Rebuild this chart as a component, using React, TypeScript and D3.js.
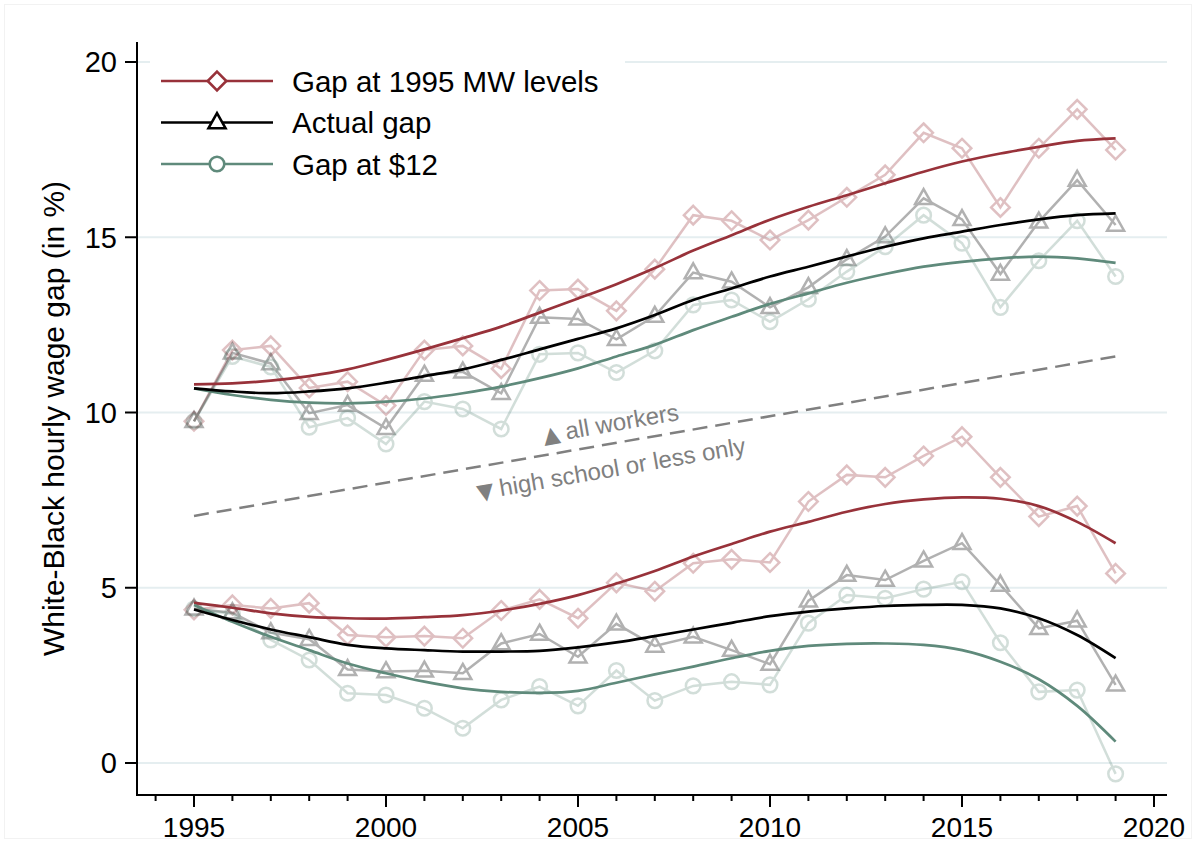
import React from "react";
import * as d3 from "d3";

const years = d3.range(1995, 2020);

// All workers
const mwAll = [9.75, 11.78, 11.9, 10.7, 10.88, 10.2, 11.78, 11.9, 11.25, 13.48, 13.52, 12.9, 14.09, 15.63, 15.47, 14.92, 15.49, 16.14, 16.78, 17.98, 17.54, 15.85, 17.54, 18.65, 17.49];
const actualAll = [9.75, 11.7, 11.4, 9.98, 10.21, 9.55, 11.07, 11.16, 10.55, 12.72, 12.67, 12.09, 12.75, 13.99, 13.73, 13.0, 13.57, 14.37, 15.02, 16.11, 15.51, 13.95, 15.44, 16.63, 15.35];
const d12All = [9.75, 11.6, 11.3, 9.58, 9.84, 9.1, 10.31, 10.1, 9.53, 11.66, 11.7, 11.14, 11.76, 13.07, 13.21, 12.59, 13.23, 14.02, 14.73, 15.63, 14.83, 13.0, 14.33, 15.47, 13.88];
const mwAllFit = [10.8, 10.83, 10.91, 11.04, 11.23, 11.5, 11.8, 12.12, 12.45, 12.85, 13.25, 13.66, 14.12, 14.62, 15.06, 15.5, 15.87, 16.2, 16.54, 16.87, 17.16, 17.39, 17.58, 17.75, 17.82];
const actualAllFit = [10.69, 10.6, 10.55, 10.6, 10.69, 10.85, 11.04, 11.23, 11.5, 11.8, 12.1, 12.4, 12.78, 13.21, 13.54, 13.88, 14.16, 14.45, 14.73, 14.97, 15.16, 15.35, 15.51, 15.63, 15.68];
const d12AllFit = [10.69, 10.5, 10.36, 10.28, 10.26, 10.31, 10.4, 10.55, 10.74, 10.98, 11.26, 11.6, 11.93, 12.35, 12.73, 13.1, 13.4, 13.7, 13.95, 14.16, 14.3, 14.4, 14.45, 14.4, 14.27];

// High school or less only
const mwHS = [4.37, 4.51, 4.41, 4.56, 3.65, 3.59, 3.62, 3.56, 4.35, 4.67, 4.13, 5.14, 4.9, 5.7, 5.81, 5.72, 7.46, 8.22, 8.15, 8.76, 9.31, 8.15, 7.03, 7.33, 5.41];
const actualHS = [4.4, 4.29, 3.72, 3.53, 2.67, 2.61, 2.63, 2.56, 3.41, 3.68, 3.03, 3.97, 3.34, 3.6, 3.22, 2.82, 4.63, 5.36, 5.22, 5.77, 6.27, 5.08, 3.84, 4.06, 2.23];
const d12HS = [4.4, 4.25, 3.51, 2.94, 1.99, 1.94, 1.56, 0.99, 1.8, 2.18, 1.63, 2.64, 1.78, 2.2, 2.32, 2.23, 3.99, 4.79, 4.7, 4.96, 5.17, 3.43, 2.03, 2.08, -0.31];
const mwHSFit = [4.57, 4.43, 4.27, 4.17, 4.13, 4.12, 4.16, 4.22, 4.35, 4.54, 4.79, 5.12, 5.48, 5.89, 6.25, 6.6, 6.88, 7.17, 7.39, 7.52, 7.58, 7.54, 7.33, 6.88, 6.27];
const actualHSFit = [4.38, 4.08, 3.81, 3.59, 3.37, 3.27, 3.22, 3.18, 3.18, 3.2, 3.3, 3.44, 3.62, 3.81, 4.0, 4.19, 4.32, 4.41, 4.48, 4.51, 4.51, 4.41, 4.13, 3.65, 2.99];
const d12HSFit = [4.51, 4.03, 3.6, 3.22, 2.84, 2.56, 2.32, 2.13, 2.03, 2.0, 2.06, 2.29, 2.53, 2.75, 2.99, 3.2, 3.34, 3.4, 3.41, 3.37, 3.22, 2.89, 2.39, 1.63, 0.61];

// Dashed separator
const sepYears = [1995, 2019];
const sepValues = [7.05, 11.6];

const yTicks = [0, 5, 10, 15, 20];
const xMajorTicks = [1995, 2000, 2005, 2010, 2015, 2020];
const xMinorTicks = d3.range(1994, 2021);

const legendLabels = ["Gap at 1995 MW levels", "Actual gap", "Gap at $12"];
const annotationSymbols = ["▲", "▼"];
const annotationLabels = ["all workers", "high school or less only"];

const RED = "#98323a";
const BLACK = "#000000";
const GREEN = "#5f8a7b";
const FONT = "'Liberation Sans', Arial, Helvetica, sans-serif";

type Shape = "diamond" | "triangle" | "circle";

function markerPath(shape: Shape, x: number, y: number): string {
  if (shape === "diamond") {
    const r = 9.3;
    return `M${x},${y - r}L${x + r},${y}L${x},${y + r}L${x - r},${y}Z`;
  }
  if (shape === "triangle") {
    const h = 15, w = 17;
    return `M${x},${y - h * 0.62}L${x + w / 2},${y + h * 0.38}L${x - w / 2},${y + h * 0.38}Z`;
  }
  const r = 7.3;
  return `M${x - r},${y}a${r},${r} 0 1,0 ${2 * r},0a${r},${r} 0 1,0 ${-2 * r},0Z`;
}

export default function App() {
  const W = 1196, H = 843;
  const x = d3.scaleLinear().domain([1995, 2020]).range([194, 1154]);
  const y = d3.scaleLinear().domain([0, 20]).range([763, 62]);
  const axisX = 137;
  const axisY = 795;

  const rawLine = d3.line<number>().x((_, i) => x(years[i])).y((d) => y(d));
  const fitLine = d3.line<number>().x((_, i) => x(years[i])).y((d) => y(d)).curve(d3.curveCatmullRom.alpha(0.5));

  const scatterSeries: { data: number[]; color: string; shape: Shape; opacity: number }[] = [
    { data: mwAll, color: RED, shape: "diamond", opacity: 0.3 },
    { data: mwHS, color: RED, shape: "diamond", opacity: 0.3 },
    { data: actualAll, color: BLACK, shape: "triangle", opacity: 0.3 },
    { data: actualHS, color: BLACK, shape: "triangle", opacity: 0.3 },
    { data: d12All, color: GREEN, shape: "circle", opacity: 0.28 },
    { data: d12HS, color: GREEN, shape: "circle", opacity: 0.28 },
  ];
  const fitSeries = [
    { data: mwAllFit, color: RED },
    { data: mwHSFit, color: RED },
    { data: d12AllFit, color: GREEN },
    { data: d12HSFit, color: GREEN },
    { data: actualAllFit, color: BLACK },
    { data: actualHSFit, color: BLACK },
  ];

  const legendItems: { label: string; color: string; shape: Shape }[] = [
    { label: legendLabels[0], color: RED, shape: "diamond" },
    { label: legendLabels[1], color: BLACK, shape: "triangle" },
    { label: legendLabels[2], color: GREEN, shape: "circle" },
  ];

  const angle = (Math.atan2(y(sepValues[1]) - y(sepValues[0]), x(sepYears[1]) - x(sepYears[0])) * 180) / Math.PI;

  return (
    <svg width={W} height={H} style={{ position: "absolute", left: 0, top: 0, background: "#fff" }} fontFamily={FONT}>
      <rect x={0} y={0} width={W} height={H} fill="#fff" />
      <rect x={4.5} y={4.5} width={W - 9} height={H - 9} fill="none" stroke="#f2f2f2" strokeWidth={1} />
      {/* gridlines */}
      {yTicks.map((t) => (
        <line key={"g" + t} x1={axisX + 1} x2={1167} y1={y(t)} y2={y(t)} stroke="#e5eef0" strokeWidth={2} />
      ))}

      {/* raw series */}
      {scatterSeries.map((s, si) => (
        <g key={"s" + si} opacity={s.opacity}>
          <path d={rawLine(s.data) || ""} fill="none" stroke={s.color} strokeWidth={2.5} />
          {s.data.map((v, i) => (
            <path key={i} d={markerPath(s.shape, x(years[i]), y(v))} fill="none" stroke={s.color} strokeWidth={2.5} />
          ))}
        </g>
      ))}

      {/* fitted */}
      {fitSeries.map((s, si) => (
        <path key={"f" + si} d={fitLine(s.data) || ""} fill="none" stroke={s.color} strokeWidth={2.7} />
      ))}

      {/* dashed separator */}
      <line x1={x(sepYears[0])} y1={y(sepValues[0])} x2={x(sepYears[1])} y2={y(sepValues[1])} stroke="#808080" strokeWidth={2.5} strokeDasharray="15 8" />
      <text transform={`translate(${x(2004.12)},${y(9.12)}) rotate(${angle})`} fontSize={24} fill="#808080">
        <tspan fontSize={22} fontFamily="'DejaVu Sans', sans-serif">{annotationSymbols[0]}</tspan>
        <tspan dx={6}>{annotationLabels[0]}</tspan>
      </text>
      <text transform={`translate(${x(2002.4)},${y(7.5)}) rotate(${angle})`} fontSize={24} fill="#808080">
        <tspan fontSize={22} fontFamily="'DejaVu Sans', sans-serif">{annotationSymbols[1]}</tspan>
        <tspan dx={6}>{annotationLabels[1]}</tspan>
      </text>

      {/* axes */}
      <line x1={axisX} x2={axisX} y1={42} y2={axisY} stroke="#000" strokeWidth={2} />
      <line x1={axisX - 1} x2={1167} y1={axisY} y2={axisY} stroke="#000" strokeWidth={2} />
      {yTicks.map((t) => (
        <g key={"yt" + t}>
          <line x1={axisX - 12} x2={axisX} y1={y(t)} y2={y(t)} stroke="#000" strokeWidth={2} />
          <text x={axisX - 20} y={y(t)} dy="0.36em" textAnchor="end" fontSize={29}>{t}</text>
        </g>
      ))}
      {xMinorTicks.map((t) => (
        <line key={"xm" + t} x1={x(t)} x2={x(t)} y1={axisY} y2={axisY + 6} stroke="#000" strokeWidth={2} />
      ))}
      {xMajorTicks.map((t) => (
        <g key={"xt" + t}>
          <line x1={x(t)} x2={x(t)} y1={axisY} y2={axisY + 12} stroke="#000" strokeWidth={2} />
          <text x={x(t)} y={axisY + 42} textAnchor="middle" fontSize={28}>{t}</text>
        </g>
      ))}
      <text transform={`translate(64,${(y(0) + y(20)) / 2 + 6}) rotate(-90)`} textAnchor="middle" fontSize={30}>
        White-Black hourly wage gap (in %)
      </text>

      {/* legend */}
      <rect x={150} y={46} width={475} height={140} fill="#fff" />
      {legendItems.map((it, i) => {
        const ly = 81 + i * 41.5;
        return (
          <g key={"l" + i}>
            <line x1={161} x2={273} y1={ly} y2={ly} stroke={it.color} strokeWidth={2.6} />
            <path d={markerPath(it.shape, 217, ly)} fill="#fff" stroke={it.color} strokeWidth={2.6} />
            <text x={292} y={ly} dy="0.36em" fontSize={29.5}>{it.label}</text>
          </g>
        );
      })}
    </svg>
  );
}
